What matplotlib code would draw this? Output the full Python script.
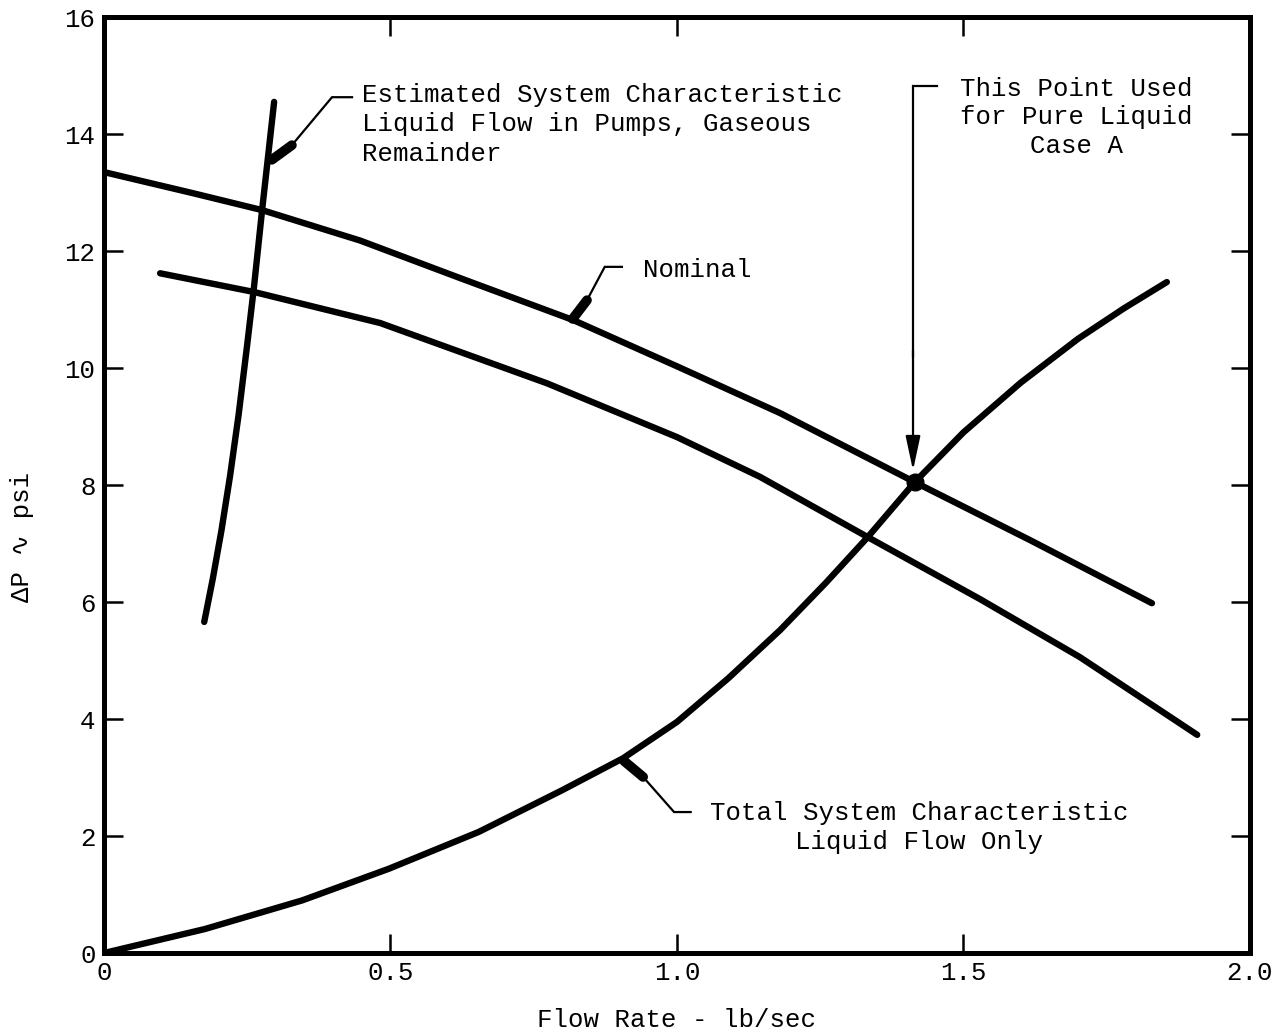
import numpy as np
import matplotlib.pyplot as plt

plt.rcParams['font.family'] = ['Liberation Mono', 'DejaVu Sans Mono', 'DejaVu Sans']
plt.rcParams['font.size'] = 18.5

# Nominal pump curve
nominal_flow = [0.0, 0.155, 0.276, 0.447, 0.621, 0.819, 1.0, 1.18, 1.415, 1.616, 1.829]
nominal_dp = [13.35, 12.99, 12.70, 12.18, 11.54, 10.82, 10.03, 9.23, 8.05, 7.06, 5.98]

# Lower pump curve
lower_flow = [0.098, 0.262, 0.482, 0.773, 1.0, 1.145, 1.333, 1.529, 1.703, 1.908]
lower_dp = [11.62, 11.30, 10.77, 9.74, 8.82, 8.14, 7.11, 6.05, 5.06, 3.73]

# Total system characteristic, liquid flow only
total_flow = [0.0, 0.176, 0.346, 0.497, 0.654, 0.799, 0.906, 1.0, 1.09, 1.18, 1.26,
              1.333, 1.415, 1.5, 1.6, 1.7, 1.78, 1.855]
total_dp = [0.0, 0.41, 0.90, 1.44, 2.07, 2.78, 3.33, 3.95, 4.70, 5.52, 6.33,
            7.11, 8.05, 8.90, 9.75, 10.50, 11.02, 11.47]

# Estimated system characteristic, gaseous remainder
est_flow = [0.175, 0.190, 0.205, 0.220, 0.235, 0.250, 0.262, 0.276, 0.297]
est_dp = [5.66, 6.40, 7.22, 8.15, 9.20, 10.40, 11.40, 12.70, 14.55]

# Operating point for pure liquid case A
case_a = (1.415, 8.05)

x_ticks = [0, 0.5, 1.0, 1.5, 2.0]
x_tick_labels = ['0', '0.5', '1.0', '1.5', '2.0']
y_ticks = [0, 2, 4, 6, 8, 10, 12, 14, 16]

# Leader lines: (thin path), (thick pointer segment)
est_leader = ([0.433, 0.398, 0.328], [14.63, 14.63, 13.81])
est_pointer = ([0.328, 0.293], [13.81, 13.56])
nom_leader = ([0.904, 0.874, 0.843], [11.73, 11.73, 11.16])
nom_pointer = ([0.843, 0.818], [11.16, 10.84])
tot_leader = ([1.024, 0.995, 0.941], [2.41, 2.41, 3.01])
tot_pointer = ([0.941, 0.908], [3.01, 3.28])
case_leader = ([1.454, 1.412, 1.412], [14.82, 14.82, 10.2])

fig = plt.figure(figsize=(12.77, 10.34), dpi=100)
ax = fig.add_axes([0.0814, 0.0783, 0.8974, 0.9052])

line_kw = dict(color='black', lw=4.6, solid_capstyle='round', solid_joinstyle='round')
ax.plot(nominal_flow, nominal_dp, **line_kw)
ax.plot(lower_flow, lower_dp, **line_kw)
ax.plot(total_flow, total_dp, **line_kw)
ax.plot(est_flow, est_dp, **line_kw)
ax.plot(*case_a, 'o', color='black', markersize=12)

thin_kw = dict(color='black', lw=1.6, solid_joinstyle='miter')
thick_kw = dict(color='black', lw=7, solid_capstyle='round')
for path in (est_leader, nom_leader, tot_leader):
    ax.plot(*path, **thin_kw)
for path in (est_pointer, nom_pointer, tot_pointer):
    ax.plot(*path, **thick_kw)
ax.plot(*case_leader, **thin_kw)
ax.annotate('', xy=(case_a[0] - 0.003, case_a[1] + 0.2), xytext=(1.412, 10.3),
            arrowprops=dict(arrowstyle='-|>,head_length=1.4,head_width=0.3',
                            color='black', lw=1.6, mutation_scale=15,
                            shrinkA=0, shrinkB=0))

ax.text(0.450, 14.87, 'Estimated System Characteristic\nLiquid Flow in Pumps, Gaseous\nRemainder',
        ha='left', va='top', linespacing=1.28)
ax.text(0.941, 11.68, 'Nominal', ha='left', va='center')
ax.text(1.494, 14.98, 'This Point Used\nfor Pure Liquid\nCase A',
        ha='left', va='top', multialignment='center', linespacing=1.24)
ax.text(1.058, 2.60, 'Total System Characteristic\nLiquid Flow Only',
        ha='left', va='top', multialignment='center', linespacing=1.28)

ax.set_xlim(0, 2.0)
ax.set_ylim(0, 16)
ax.set_xticks(x_ticks)
ax.set_xticklabels(x_tick_labels)
ax.set_yticks(y_ticks)
ax.tick_params(direction='in', length=14, width=1.8, top=True, right=True, pad=6)
for spine in ax.spines.values():
    spine.set_linewidth(3.6)

fig.text(22 / 1277, 1 - 537 / 1034, 'ΔP ∿ psi', rotation=90, ha='center', va='center')
fig.text(677 / 1277, 1 - 1020 / 1034, 'Flow Rate - lb/sec', ha='center', va='center')

fig.savefig('out.png', dpi=100)
